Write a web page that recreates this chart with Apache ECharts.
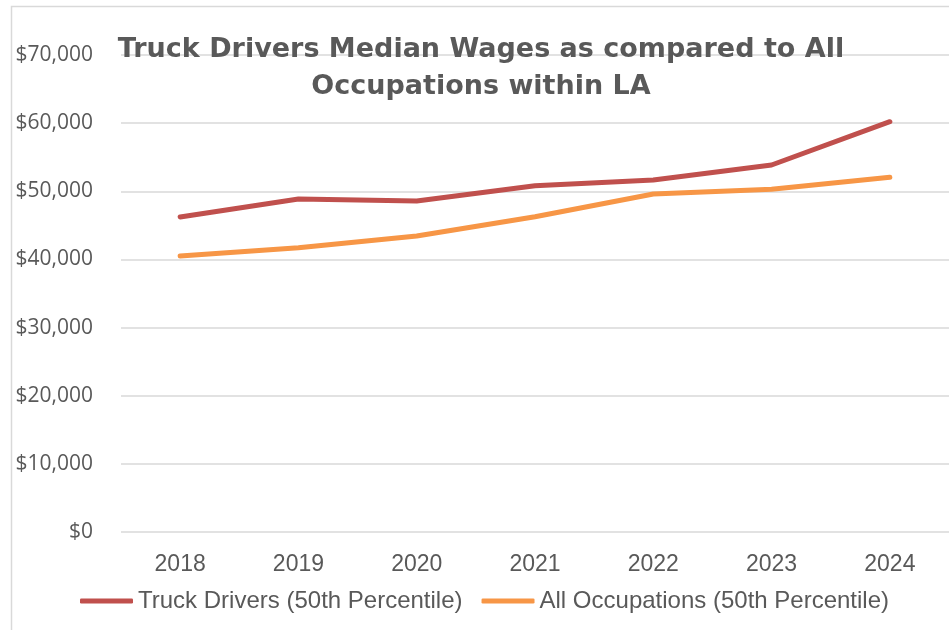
<!DOCTYPE html>
<html>
<head>
<meta charset="utf-8">
<script src="https://cdn.jsdelivr.net/npm/echarts@6/dist/echarts.min.js"></script>
<style>
  html, body { margin: 0; padding: 0; background: #fff; }
  #charts { width: 949px; height: 630px; }
</style>
</head>
<body>
<div id="charts"></div>
<script>
// 年份
var years = ['2018', '2019', '2020', '2021', '2022', '2023', '2024'];
// 卡车司机工资中位数
var truckDrivers = [46230, 48870, 48580, 50820, 51660, 53860, 60210];
// 所有职业工资中位数
var allOccupations = [40500, 41720, 43440, 46270, 49600, 50290, 52050];
// y 轴刻度
var yTicks = [0, 10000, 20000, 30000, 40000, 50000, 60000, 70000];

var myChart = echarts.init(document.getElementById('charts'));

var option = {
  backgroundColor: '#fff',
  animation: false,
  title: {
    text: 'Truck Drivers Median Wages as compared to All\nOccupations within LA',
    left: 476,
    textAlign: 'center',
    top: 26,
    textStyle: {
      fontFamily: 'DejaVu Sans',
      fontWeight: 'bold',
      fontSize: 27,
      lineHeight: 37,
      color: '#595959'
    }
  },
  graphic: [
    {
      type: 'rect',
      silent: true,
      shape: { x: 11.5, y: 6.5, width: 1000, height: 1000 },
      style: { fill: 'none', stroke: '#d9d9d9', lineWidth: 1.5 }
    }
  ],
  legend: {
    left: 75,
    top: 584,
    itemWidth: 53,
    itemHeight: 5,
    itemGap: 19,
    icon: 'roundRect',
    textStyle: {
      fontFamily: 'Liberation Sans',
      fontSize: 24,
      color: '#595959'
    },
    data: ['Truck Drivers (50th Percentile)', 'All Occupations (50th Percentile)']
  },
  grid: {
    left: 121,
    right: 0,
    top: 55,
    bottom: 98,
    containLabel: false
  },
  xAxis: {
    type: 'category',
    data: years,
    boundaryGap: true,
    axisLine: { show: false },
    axisTick: { show: false },
    axisLabel: {
      margin: 21,
      fontFamily: 'Liberation Sans',
      fontSize: 23,
      color: '#595959'
    }
  },
  yAxis: {
    type: 'value',
    min: yTicks[0],
    max: yTicks[yTicks.length - 1],
    interval: yTicks[1] - yTicks[0],
    axisLine: { show: false },
    axisTick: { show: false },
    splitLine: { lineStyle: { color: '#d9d9d9', width: 1.5 } },
    axisLabel: {
      margin: 28,
      fontFamily: 'Open Sans',
      fontSize: 21,
      color: '#595959',
      formatter: function (v) {
        return '$' + v.toLocaleString('en-US');
      }
    }
  },
  series: [
    {
      name: 'Truck Drivers (50th Percentile)',
      type: 'line',
      data: truckDrivers,
      showSymbol: false,
      symbol: 'none',
      color: '#C0504D',
      lineStyle: { width: 5, color: '#C0504D', cap: 'round', join: 'round' }
    },
    {
      name: 'All Occupations (50th Percentile)',
      type: 'line',
      data: allOccupations,
      showSymbol: false,
      symbol: 'none',
      color: '#F79646',
      lineStyle: { width: 5, color: '#F79646', cap: 'round', join: 'round' }
    }
  ]
};

myChart.setOption(option);
</script>
</body>
</html>
